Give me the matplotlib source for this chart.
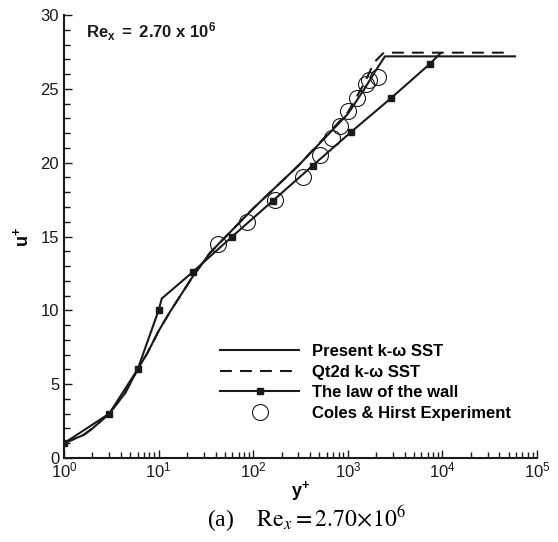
import matplotlib
matplotlib.use("Agg")
import matplotlib.pyplot as plt
from matplotlib.ticker import LogLocator, MultipleLocator, NullFormatter

plt.rcParams['font.family'] = ['Liberation Sans', 'DejaVu Sans']
plt.rcParams['mathtext.fontset'] = 'custom'
plt.rcParams['mathtext.rm'] = 'Liberation Sans'
plt.rcParams['mathtext.bf'] = 'Liberation Sans:bold'
plt.rcParams['mathtext.it'] = 'Liberation Sans:italic'

# present k-omega SST profile
sst_y = [1, 1.6, 2, 3, 4.4, 6, 7.6, 10, 13.2, 23, 35, 100, 300, 1000, 1500, 2000, 2470, 58600]
sst_u = [1, 1.55, 2.0, 3, 4.37, 6, 7.1, 8.6, 9.9, 12.3, 13.9, 16.9, 19.8, 23.3, 25.0, 26.3, 27.2, 27.2]

# Qt2d k-omega SST profile
qt_y = [1, 1.6, 2, 3, 4.4, 6, 7.6, 10, 13.2, 23, 35, 100, 300, 1000, 1500, 1900, 2400, 54000]
qt_u = [1, 1.55, 2.0, 3, 4.37, 6, 7.1, 8.6, 9.9, 12.3, 13.9, 16.9, 19.8, 23.4, 25.4, 26.8, 27.45, 27.45]

# law of the wall
law_y = [1, 3, 6, 10, 10.8, 23, 60, 160, 425, 1070, 2840, 7400, 9500]
law_u = [1, 3, 6, 10, 10.8, 12.6, 15, 17.4, 19.8, 22.05, 24.35, 26.7, 27.4]
law_marks = [0, 1, 2, 3, 5, 6, 7, 8, 9, 10, 11]

# Coles & Hirst experiment
exp_y = [42, 85, 170, 338, 508, 676, 827, 1012, 1242, 1557, 1690, 2070]
exp_u = [14.5, 16.0, 17.5, 19.05, 20.5, 21.65, 22.45, 23.5, 24.4, 25.35, 25.6, 25.8]

fig = plt.figure(figsize=(5.58, 5.42), dpi=100)
ax = fig.add_axes([0.1147, 0.155, 0.8477, 0.8173])

ax.plot(sst_y, sst_u, color='#1a1a1a', lw=1.5, label=u'Present k-\u03c9 SST')
ax.plot(qt_y, qt_u, color='#1a1a1a', lw=1.5, linestyle=(0, (5.7, 3.9)), label=u'Qt2d k-\u03c9 SST')
ax.plot(law_y, law_u, color='#1a1a1a', lw=1.5, marker='s', ms=5, markevery=law_marks,
        label='The law of the wall')
ax.plot(exp_y, exp_u, linestyle='none', marker='o', ms=11.5, mfc='none', mec='#1a1a1a',
        mew=0.8, label='Coles & Hirst Experiment')

ax.set_xscale('log')
ax.set_xlim(1, 1e5)
ax.set_ylim(0, 30)
ax.yaxis.set_major_locator(MultipleLocator(5))
ax.yaxis.set_minor_locator(MultipleLocator(1))
ax.xaxis.set_major_locator(LogLocator(base=10, numticks=10))
ax.xaxis.set_minor_locator(LogLocator(base=10, subs=range(2, 10), numticks=20))
ax.xaxis.set_minor_formatter(NullFormatter())

for s in ['top', 'right']:
    ax.spines[s].set_visible(False)
for s in ['left', 'bottom']:
    ax.spines[s].set_linewidth(1.5)
    ax.spines[s].set_color('#1a1a1a')
ax.tick_params(which='both', direction='in', labelsize=12, colors='#1a1a1a', width=1.0)
ax.tick_params(which='major', length=6)
ax.tick_params(which='minor', length=4)
ax.tick_params(axis='x', which='both', pad=2)

ax.set_xlabel(r'$\mathbf{y^{+}}$', fontsize=13, labelpad=-1)
ax.set_ylabel(r'$\mathbf{u^{+}}$', fontsize=13, labelpad=6)

ax.text(0.047, 0.948, r'$\mathbf{Re_x\ =\ 2.70\ x\ 10^6}$', transform=ax.transAxes,
        fontsize=12, va='baseline', ha='left', color='#1a1a1a')

ax.legend(loc='upper left', bbox_to_anchor=(0.313, 0.276), frameon=False, borderpad=0,
          handlelength=4.7, handletextpad=0.78, labelspacing=0.33, numpoints=1,
          prop={'weight': 'bold', 'size': 12})

fig.text(0.55, 0.042, r'(a)    $\mathrm{Re}_x = 2.70\!\times\!10^6$', ha='center', va='center',
         fontsize=17, family='Liberation Serif', math_fontfamily='stix')

fig.savefig('out.png', dpi=100)
